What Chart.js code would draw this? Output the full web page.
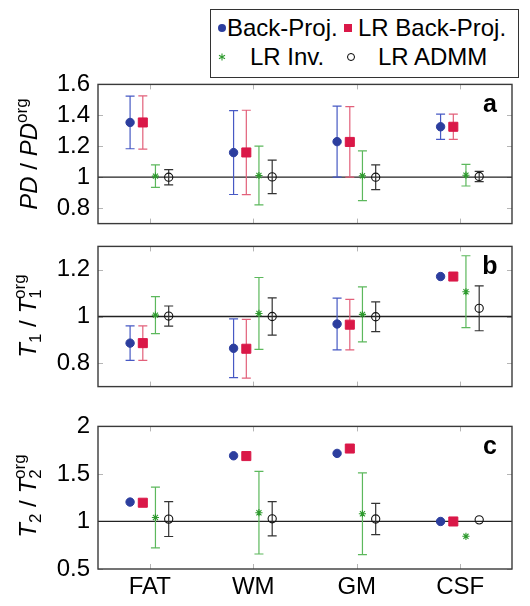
<!DOCTYPE html>
<html><head><meta charset="utf-8">
<script src="https://cdn.jsdelivr.net/npm/chart.js@4.4.1/dist/chart.umd.min.js"></script>
<style>
html,body{margin:0;padding:0;background:#fff;width:530px;height:606px;overflow:hidden;}
#wrap{position:relative;width:530px;height:606px;}
canvas{position:absolute;left:0;}
svg{position:absolute;left:0;top:0;font-family:"Liberation Sans",Arial,Helvetica,sans-serif;}
</style></head><body>
<div id="wrap">
<canvas id="cA" width="530" height="184" style="top:62px;width:530px;height:184px"></canvas>
<canvas id="cB" width="530" height="185" style="top:224px;width:530px;height:185px"></canvas>
<canvas id="cC" width="530" height="202" style="top:404px;width:530px;height:202px"></canvas>
<svg width="530" height="606" viewBox="0 0 530 606">
  <!-- legend -->
  <rect x="210.5" y="9.5" width="308" height="68" fill="#fff" stroke="#333" stroke-width="1"/>
  <circle cx="222" cy="28" r="4" fill="#2c3e9e"/>
  <text x="227" y="36" font-size="24" fill="#000" id="lg0"></text>
  <rect x="344" y="24" width="8" height="8" fill="#da1848"/>
  <text x="358" y="36" font-size="24" fill="#000" id="lg1"></text>
  <path d="M222 53.5 L222 60.5 M219 55.2 L225 58.8 M219 58.8 L225 55.2" stroke="#2e9a2e" stroke-width="1.1" fill="none"/>
  <text x="250" y="65" font-size="24" fill="#000" id="lg2"></text>
  <circle cx="351" cy="57" r="3.5" fill="none" stroke="#000" stroke-width="1"/>
  <text x="378" y="65" font-size="24" fill="#000" id="lg3"></text>
  <!-- y axis titles -->
  <text transform="translate(37,154) rotate(-90)" text-anchor="middle" font-size="24" fill="#000"><tspan font-style="italic">PD</tspan> / <tspan font-style="italic">PD</tspan><tspan font-size="17" dy="-10">org</tspan></text>
  <text transform="translate(36,316) rotate(-90)" text-anchor="middle" font-size="24" fill="#000"><tspan font-style="italic">T</tspan><tspan font-size="17" dy="5">1</tspan><tspan dy="-5"> / </tspan><tspan font-style="italic">T</tspan><tspan font-size="17" dy="5">1</tspan><tspan font-size="17" dx="-9.5" dy="-16">org</tspan></text>
  <text transform="translate(36,496) rotate(-90)" text-anchor="middle" font-size="24" fill="#000"><tspan font-style="italic">T</tspan><tspan font-size="17" dy="5">2</tspan><tspan dy="-5"> / </tspan><tspan font-style="italic">T</tspan><tspan font-size="17" dy="5">2</tspan><tspan font-size="17" dx="-9.5" dy="-16">org</tspan></text>
</svg>
</div>
<script>
// ---------- data ----------
const categories = ["FAT", "WM", "GM", "CSF"];
const seriesNames = ["Back-Proj.", "LR Back-Proj.", "LR Inv.", "LR ADMM"];

// Panel a: PD / PD^org  (mean values and +/- error)
const pdBackProj      = [1.354, 1.159, 1.230, 1.326];
const pdBackProjErr   = [0.170, 0.271, 0.230, 0.082];
const pdLrBackProj    = [1.354, 1.160, 1.228, 1.326];
const pdLrBackProjErr = [0.172, 0.273, 0.228, 0.082];
const pdLrInv         = [1.007, 1.011, 1.009, 1.013];
const pdLrInvErr      = [0.073, 0.190, 0.161, 0.070];
const pdLrAdmm        = [1.000, 1.002, 1.000, 1.005];
const pdLrAdmmErr     = [0.049, 0.108, 0.080, 0.033];
const pdTicks         = [0.8, 1, 1.2, 1.4, 1.6];

// Panel b: T1 / T1^org
const t1BackProj      = [0.886, 0.864, 0.968, 1.171];
const t1BackProjErr   = [0.074, 0.126, 0.111, 0];
const t1LrBackProj    = [0.886, 0.862, 0.965, 1.171];
const t1LrBackProjErr = [0.074, 0.126, 0.108, 0];
const t1LrInv         = [1.006, 1.013, 1.009, 1.106];
const t1LrInvErr      = [0.079, 0.154, 0.118, 0.154];
const t1LrAdmm        = [1.002, 1.000, 0.999, 1.035];
const t1LrAdmmErr     = [0.043, 0.080, 0.064, 0.096];
const t1Ticks         = [0.8, 1, 1.2];

// Panel c: T2 / T2^org
const t2BackProj      = [1.204, 1.691, 1.716, 1.000];
const t2BackProjErr   = [0, 0, 0, 0];
const t2LrBackProj    = [1.197, 1.688, 1.767, 1.000];
const t2LrBackProjErr = [0, 0, 0, 0];
const t2LrInv         = [1.042, 1.092, 1.081, 0.844];
const t2LrInvErr      = [0.320, 0.434, 0.430, 0];
const t2LrAdmm        = [1.025, 1.028, 1.026, 1.017];
const t2LrAdmmErr     = [0.183, 0.180, 0.164, 0];
const t2Ticks         = [0.5, 1, 1.5, 2];

// ---------- styles ----------
const FONT = '"Liberation Sans", Arial, Helvetica, sans-serif';
const seriesStyle = [
  {shift: -0.19,  pointStyle: 'circle', radius: 4.2, bg: '#2c3e9e', border: '#2c3e9e', bw: 1,   bar: '#4759c4'},
  {shift: -0.067, pointStyle: 'rect',   radius: 6.4, bg: '#da1848', border: '#da1848', bw: 1,   bar: '#e2607a'},
  {shift: 0.055,  pointStyle: 'star',   radius: 3.6, bg: '#2e9a2e', border: '#2e9a2e', bw: 1.1, bar: '#5cb85c'},
  {shift: 0.183,  pointStyle: 'circle', radius: 4.1, bg: 'rgba(255,255,255,0)', border: '#111', bw: 1.1, bar: '#333'}
];

seriesNames.forEach((n, i) => { document.getElementById('lg' + i).textContent = n; });

const decor = {
  id: 'decor',
  beforeDatasetsDraw(chart) {
    const {ctx, chartArea: a, scales: {x, y}} = chart;
    ctx.save();
    // inner tick marks
    ctx.strokeStyle = '#b5b5b5';
    ctx.lineWidth = 1;
    ctx.beginPath();
    y.ticks.forEach(t => {
      const py = Math.round(y.getPixelForValue(t.value)) + 0.5;
      ctx.moveTo(a.left, py); ctx.lineTo(a.left + 5, py);
      ctx.moveTo(a.right, py); ctx.lineTo(a.right - 5, py);
    });
    categories.forEach((c, i) => {
      const px = Math.round(x.getPixelForValue(i)) + 0.5;
      ctx.moveTo(px, a.top); ctx.lineTo(px, a.top + 5);
      ctx.moveTo(px, a.bottom); ctx.lineTo(px, a.bottom - 5);
    });
    ctx.stroke();
    // reference line at 1
    const p1 = y.getPixelForValue(chart.options.plugins.decor.refValue);
    ctx.strokeStyle = '#222';
    ctx.lineWidth = 1.3;
    ctx.beginPath();
    ctx.moveTo(a.left, p1); ctx.lineTo(a.right, p1);
    ctx.stroke();
    // error bars
    chart.data.datasets.forEach((ds, i) => {
      const meta = chart.getDatasetMeta(i);
      ctx.strokeStyle = ds.barColor;
      ctx.lineWidth = 1.2;
      ds.errors.forEach((e, j) => {
        if (!e) return;
        const v = ds.data[j].y;
        const px = meta.data[j].x;
        const yt = y.getPixelForValue(v + e), yb = y.getPixelForValue(v - e);
        ctx.beginPath();
        ctx.moveTo(px, yt); ctx.lineTo(px, yb);
        ctx.moveTo(px - 4.5, yt); ctx.lineTo(px + 4.5, yt);
        ctx.moveTo(px - 4.5, yb); ctx.lineTo(px + 4.5, yb);
        ctx.stroke();
      });
    });
    ctx.restore();
  },
  afterDatasetsDraw(chart) {
    const {ctx, chartArea: a} = chart;
    ctx.save();
    ctx.strokeStyle = '#3a3a3a';
    ctx.lineWidth = 1.4;
    ctx.strokeRect(a.left, a.top, a.right - a.left, a.bottom - a.top);
    ctx.fillStyle = '#000';
    ctx.font = 'bold 25px ' + FONT;
    ctx.textAlign = 'center';
    ctx.textBaseline = 'middle';
    ctx.fillText(chart.options.plugins.decor.letter, a.right - 22, a.top + 21);
    ctx.restore();
  }
};

function makePanel(id, values, errors, yMin, yMax, yTicks, letter, showX) {
  const datasets = values.map((vals, i) => {
    const s = seriesStyle[i];
    return {
      label: seriesNames[i],
      data: categories.map((c, j) => ({x: j + s.shift, y: vals[j]})),
      errors: errors[i],
      barColor: s.bar,
      pointStyle: s.pointStyle,
      pointRadius: s.radius,
      pointBackgroundColor: s.bg,
      pointBorderColor: s.border,
      pointBorderWidth: s.bw,
      showLine: false
    };
  });
  return new Chart(document.getElementById(id), {
    type: 'scatter',
    data: {datasets},
    plugins: [decor],
    options: {
      responsive: false,
      animation: false,
      events: [],
      layout: {padding: {top: 20, bottom: showX ? 0 : 20, left: 0, right: 18}},
      plugins: {
        legend: {display: false},
        tooltip: {enabled: false},
        decor: {letter, refValue: 1}
      },
      scales: {
        x: {
          type: 'linear',
          min: -0.5, max: 3.5,
          display: showX,
          grid: {display: false, drawTicks: false},
          border: {display: false},
          afterBuildTicks: s => { s.ticks = categories.map((c, i) => ({value: i})); },
          afterFit: s => { if (showX) s.height = 37; },
          ticks: {
            callback: v => categories[v],
            font: {family: FONT, size: 24},
            color: '#000',
            padding: 4,
            maxRotation: 0,
            autoSkip: false
          }
        },
        y: {
          min: yMin, max: yMax,
          grid: {display: false, drawTicks: false},
          border: {display: false},
          afterBuildTicks: s => { s.ticks = yTicks.map(v => ({value: v})); },
          afterFit: s => { s.width = 98; },
          ticks: {
            callback: v => String(v),
            font: {family: FONT, size: 24},
            color: '#000',
            padding: 8
          }
        }
      }
    }
  });
}

makePanel('cA',
  [pdBackProj, pdLrBackProj, pdLrInv, pdLrAdmm],
  [pdBackProjErr, pdLrBackProjErr, pdLrInvErr, pdLrAdmmErr],
  0.7, 1.6, pdTicks, 'a', false);
makePanel('cB',
  [t1BackProj, t1LrBackProj, t1LrInv, t1LrAdmm],
  [t1BackProjErr, t1LrBackProjErr, t1LrInvErr, t1LrAdmmErr],
  0.7, 1.3, t1Ticks, 'b', false);
makePanel('cC',
  [t2BackProj, t2LrBackProj, t2LrInv, t2LrAdmm],
  [t2BackProjErr, t2LrBackProjErr, t2LrInvErr, t2LrAdmmErr],
  0.5, 2.0, t2Ticks, 'c', true);
</script>
</body></html>
